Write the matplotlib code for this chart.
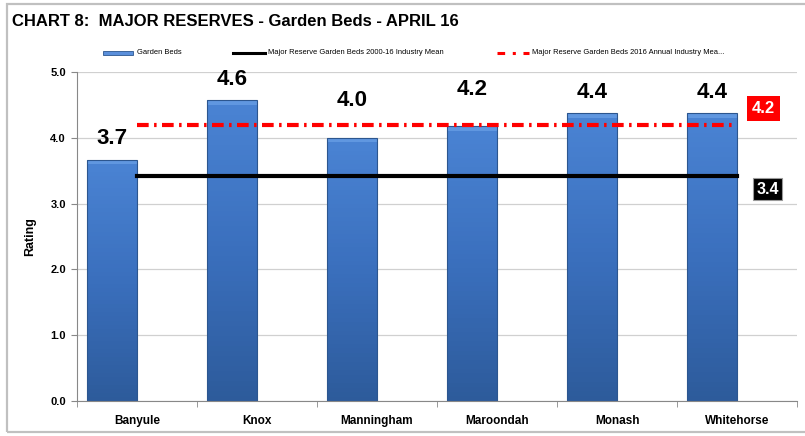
"""
Chart 8 -- Major Reserves, Garden Beds, April 16.
Bar per council plus two industry mean reference lines.
"""

import numpy as np
import matplotlib
matplotlib.use("Agg")
import matplotlib.pyplot as plt
from matplotlib.colors import LinearSegmentedColormap
from matplotlib.patches import Rectangle
from matplotlib.lines import Line2D

councils = ["Banyule", "Knox", "Manningham", "Maroondah", "Monash", "Whitehorse"]
garden_beds = [3.67, 4.57, 4.00, 4.18, 4.37, 4.37]
mean_2000_16 = 3.42
mean_2016 = 4.19
y_ticks = [0.0, 1.0, 2.0, 3.0, 4.0, 5.0]

TITLE = "CHART 8:  MAJOR RESERVES - Garden Beds - APRIL 16"
LEG_BARS = "Garden Beds"
LEG_MEAN = "Major Reserve Garden Beds 2000-16 Industry Mean"
LEG_2016 = "Major Reserve Garden Beds 2016 Annual Industry Mea..."

plt.rcParams["font.family"] = ["Liberation Sans", "DejaVu Sans"]

W, H = 805, 436
fig = plt.figure(figsize=(W / 100, H / 100), dpi=100)


def fx(px):
    return px / W


def fy(py):
    return 1 - py / H


# outer chart border
fig.patches.append(Rectangle((fx(7), fy(432)), fx(820) - fx(7), fy(4) - fy(432),
                             transform=fig.transFigure, fill=False,
                             edgecolor="#c0c0c0", linewidth=1.6))

ax = fig.add_axes([fx(77), fy(401), fx(797) - fx(77), fy(72) - fy(401)])
x = np.arange(len(councils))
bar_w = 0.415

# gradient bars: stack thin slices, bar sits left of the category centre
grad = LinearSegmentedColormap.from_list("blu", ["#2d5b9b", "#3a6fbd", "#4a83d3"])
n_slices = 60
for xi, v in zip(x, garden_beds):
    edges = np.linspace(0, v, n_slices + 1)
    cols = grad(np.linspace(0, 1, n_slices))
    ax.bar([xi] * n_slices, np.diff(edges), bottom=edges[:-1], width=-bar_w,
           align="edge", color=cols, linewidth=0, zorder=2)
# light bevel strip on top of each bar
bevel = 0.07
ax.bar(x, [bevel] * len(x), bottom=np.array(garden_beds) - bevel, width=-bar_w,
       align="edge", color="#6097e0", linewidth=0, zorder=2.2)
ax.bar(x, garden_beds, width=-bar_w, align="edge", color="none",
       edgecolor="#2c568f", linewidth=0.8, zorder=2.5)

# reference lines run from the first to the last category centre, over the bars
ax.plot([x[0], x[-1]], [mean_2000_16] * 2, color="black", linewidth=3, zorder=3)
ax.plot([x[0], x[-1]], [mean_2016] * 2, color="#ff0000", linewidth=3,
        dashes=(2.8, 1.3, 0.6, 1.3), zorder=3)

# value labels; the ones just under the red line are lifted clear of it
for xi, v in zip(x, garden_beds):
    lifted = v <= mean_2016 and v + 0.3 > mean_2016 - 0.2
    ly_val = v + (0.56 if lifted else 0.32)
    ax.text(xi - bar_w / 2, ly_val, f"{v:.1f}", ha="center", va="center",
            fontsize=16, fontweight="bold", zorder=4)

ax.text(5.22, 4.45, f"{mean_2016:.1f}", ha="center", va="center", color="white",
        fontsize=12, fontweight="bold", clip_on=False,
        bbox=dict(boxstyle="square,pad=0.3", facecolor="#ff0000", edgecolor="none"))
ax.text(5.255, 3.22, f"{mean_2000_16:.1f}", ha="center", va="center", color="white",
        fontsize=11.5, fontweight="bold", clip_on=False,
        bbox=dict(boxstyle="square,pad=0.2", facecolor="black", edgecolor="#9a9a9a",
                  linewidth=0.8))

ax.set_xlim(-0.5, len(councils) - 0.5)
ax.set_ylim(0, 5)
ax.set_yticks(y_ticks)
ax.set_yticklabels([f"{t:.1f}" for t in y_ticks], fontsize=8, fontweight="bold")
ax.set_xticks(x)
ax.set_xticklabels(councils, fontsize=8.5, fontweight="bold")
ax.set_xticks(np.arange(len(councils) + 1) - 0.5, minor=True)
ax.tick_params(axis="x", which="major", length=0, pad=10)
ax.tick_params(axis="x", which="minor", length=4, color="#888888")
ax.tick_params(axis="y", length=4, color="#888888", pad=4)
ax.set_ylabel("Rating", fontsize=9, fontweight="bold", labelpad=10)

ax.grid(axis="y", color="#d0d0d0", linewidth=0.9, zorder=0)
ax.set_axisbelow(True)
for side in ("top", "right"):
    ax.spines[side].set_visible(False)
for side in ("left", "bottom"):
    ax.spines[side].set_color("#888888")

fig.text(fx(12), fy(22), TITLE, fontsize=12, fontweight="bold", va="center")

# legend drawn by hand to match spacing
ly = fy(53)
fig.patches.append(Rectangle((fx(103), ly - 0.005), fx(30), 0.010,
                             transform=fig.transFigure, facecolor="#5a8fdb",
                             edgecolor="#2c568f", linewidth=0.6))
fig.text(fx(137), ly, LEG_BARS, fontsize=5.4, va="center")
fig.lines.append(Line2D([fx(233), fx(265)], [ly, ly], transform=fig.transFigure,
                        color="black", linewidth=2.2))
fig.text(fx(268), ly, LEG_MEAN, fontsize=5.4, va="center")
fig.lines.append(Line2D([fx(497), fx(529)], [ly, ly], transform=fig.transFigure,
                        color="#ff0000", linewidth=2.2, dashes=(2.5, 2.5, 1, 2.5)))
fig.text(fx(532), ly, LEG_2016, fontsize=5.4, va="center")

fig.savefig("out.png", dpi=100)
